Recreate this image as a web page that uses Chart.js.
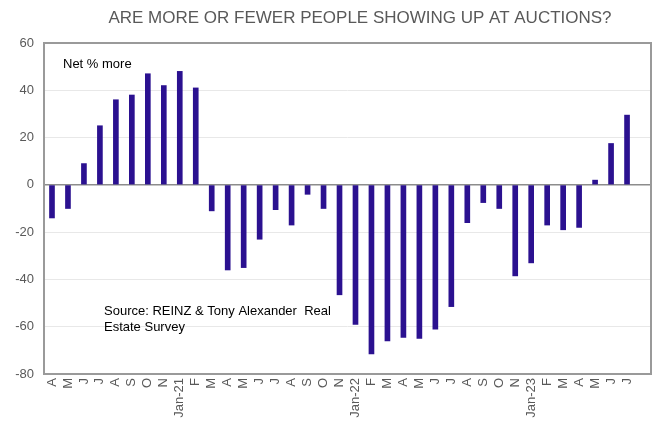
<!DOCTYPE html>
<html>
<head>
<meta charset="utf-8">
<script src="https://cdn.jsdelivr.net/npm/chart.js@4.4.0/dist/chart.umd.min.js"></script>
<style>
  html, body { margin: 0; padding: 0; background: #ffffff; }
  #wrap { width: 653px; height: 426px; position: relative; }
</style>
</head>
<body>
<div id="wrap"><canvas id="c"></canvas></div>
<script>
// Data (net % more people at auctions)
const categories = ['A','M','J','J','A','S','O','N','Jan-21','F','M','A','M','J','J','A','S','O','N','Jan-22','F','M','A','M','J','J','A','S','O','N','Jan-23','F','M','A','M','J','J',''];
const netMore = [-14,-10,9,25,36,38,47,42,48,41,-11,-36,-35,-23,-10.5,-17,-4,-10,-46.5,-59,-71.5,-66,-64.5,-65,-61,-51.5,-16,-7.5,-10,-38.5,-33,-17,-19,-18,2,17.5,29.5,null];
const yTicks = [60,40,20,0,-20,-40,-60,-80];

const titleText = 'ARE MORE OR FEWER PEOPLE SHOWING UP AT AUCTIONS?';
const noteText = 'Net % more';
const sourceLines = ['Source: REINZ & Tony Alexander  Real', 'Estate Survey'];

const FONT = '"Liberation Sans", Arial, sans-serif';

const decor = {
  id: 'decor',
  afterDraw(chart) {
    const ctx = chart.ctx;
    const a = chart.chartArea;
    ctx.save();
    // plot border
    ctx.strokeStyle = '#9a9a9a';
    ctx.lineWidth = 2;
    ctx.strokeRect(a.left, a.top, a.right - a.left, a.bottom - a.top);
    // title
    ctx.fillStyle = '#595959';
    ctx.font = '17px ' + FONT;
    ctx.textAlign = 'center';
    ctx.textBaseline = 'middle';
    ctx.fillText(titleText, 360, 18);
    // annotations
    ctx.fillStyle = '#000000';
    ctx.font = '13px ' + FONT;
    ctx.textAlign = 'left';
    ctx.fillText(noteText, 63, 64);
    ctx.fillText(sourceLines[0], 104, 311);
    ctx.fillText(sourceLines[1], 104, 327);
    ctx.restore();
  }
};

new Chart(document.getElementById('c'), {
  type: 'bar',
  data: {
    labels: categories,
    datasets: [{
      data: netMore,
      backgroundColor: '#2b1190',
      borderWidth: 0,
      barThickness: 5
    }]
  },
  options: {
    responsive: true,
    maintainAspectRatio: false,
    animation: false,
    layout: { padding: { top: 43, right: 2, left: 0, bottom: 0 } },
    plugins: { legend: { display: false }, title: { display: false }, tooltip: { enabled: false } },
    scales: {
      x: {
        grid: { display: false, drawTicks: false },
        border: { display: false },
        ticks: {
          autoSkip: false,
          maxRotation: 90,
          minRotation: 90,
          padding: 4,
          color: '#595959',
          font: { family: FONT, size: 13 }
        },
        afterFit(scale) { scale.height = 52; scale.paddingLeft = 0; scale.paddingRight = 0; }
      },
      y: {
        min: -80,
        max: 60,
        afterBuildTicks(scale) { scale.ticks = yTicks.map(v => ({ value: v })); },
        grid: {
          drawTicks: false,
          color: (c) => c.tick && c.tick.value === 0 ? '#8c8c8c' : '#e8e8e8',
          lineWidth: (c) => c.tick && c.tick.value === 0 ? 1.5 : 1
        },
        border: { display: false },
        ticks: {
          padding: 10,
          color: '#595959',
          font: { family: FONT, size: 13 }
        },
        afterFit(scale) { scale.width = 44; }
      }
    }
  },
  plugins: [decor]
});
</script>
</body>
</html>
